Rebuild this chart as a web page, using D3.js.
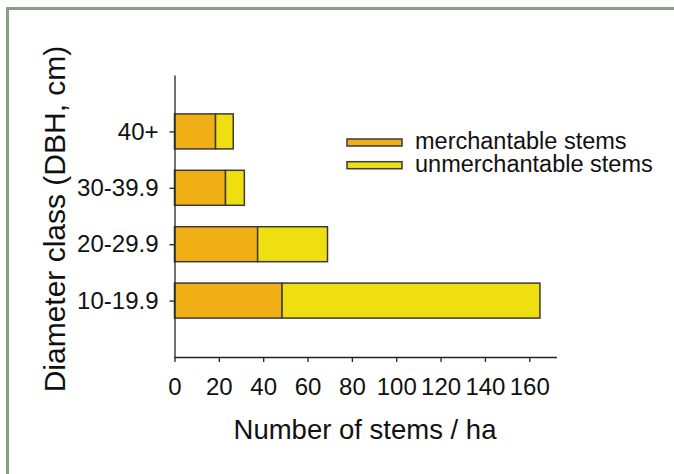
<!DOCTYPE html>
<html>
<head>
<meta charset="utf-8">
<script src="https://cdn.jsdelivr.net/npm/d3@7"></script>
<style>
  body { margin: 0; background: #fff; }
  svg { display: block; font-family: "Liberation Sans", Arial, sans-serif; }
</style>
</head>
<body>
<svg id="chart" width="674" height="474"></svg>
<script>
// diameter classes, bottom to top
const classes = ["10-19.9", "20-29.9", "30-39.9", "40+"];
const merchantable = [48.5, 37.5, 23, 18.5];
const unmerchantable = [116.3, 31.5, 8.5, 8];
const xTicks = [0, 20, 40, 60, 80, 100, 120, 140, 160];
const seriesNames = ["merchantable stems", "unmerchantable stems"];
const colors = ["#f0b015", "#f0df10"];

const svg = d3.select("#chart");

// frame around the figure
svg.append("rect")
    .attr("x", 7.5)
    .attr("y", 8.5)
    .attr("width", 700)
    .attr("height", 500)
    .style("fill", "none")
    .style("stroke", "#86a088")
    .style("stroke-width", 3);

const xScale = d3.scaleLinear()
    .domain([0, 172.5])
    .range([174.5, 557]);

const yScale = d3.scalePoint()
    .domain(classes)
    .range([357, 75])
    .padding(1);

const barH = 35;

const rows = classes.map((c, i) => ({
    cls: c,
    parts: [
        { s: 0, x0: 0, x1: merchantable[i] },
        { s: 1, x0: merchantable[i], x1: merchantable[i] + unmerchantable[i] }
    ]
}));

const g = svg.append("g");
rows.forEach(r => {
    g.selectAll(null)
        .data(r.parts)
        .enter()
        .append("rect")
        .attr("x", d => xScale(d.x0))
        .attr("y", yScale(r.cls) - barH / 2)
        .attr("width", d => xScale(d.x1) - xScale(d.x0))
        .attr("height", barH)
        .style("fill", d => colors[d.s])
        .style("stroke", "#3a3a3a")
        .style("stroke-width", 1.5);
});

// x axis
const xAxis = svg.append("g")
    .attr("transform", "translate(0,357)")
    .call(d3.axisBottom(xScale).tickValues(xTicks).tickSize(5).tickPadding(16).tickSizeOuter(0));
xAxis.select(".domain").attr("d", "M" + xScale.range()[0] + ",0.5H" + xScale.range()[1]);
xAxis.selectAll("line").style("stroke", "#222").style("stroke-width", 1.3);
xAxis.select(".domain").style("stroke", "#222").style("stroke-width", 1.3);
xAxis.selectAll("text")
    .style("font-size", "24px")
    .style("font-family", "'Liberation Sans', Arial, sans-serif")
    .style("fill", "#111");

// y axis
const yAxis = svg.append("g")
    .attr("transform", "translate(174.5,0)")
    .call(d3.axisLeft(yScale).tickSize(5).tickPadding(11).tickSizeOuter(0));
yAxis.selectAll("line").style("stroke", "#222").style("stroke-width", 1.3);
yAxis.select(".domain").style("stroke", "#222").style("stroke-width", 1.3);
yAxis.selectAll("text")
    .style("font-size", "24px")
    .style("font-family", "'Liberation Sans', Arial, sans-serif")
    .style("fill", "#111");

// axis titles
svg.append("text")
    .attr("x", 365)
    .attr("y", 439)
    .attr("text-anchor", "middle")
    .style("font-size", "27.5px")
    .style("fill", "#111")
    .text("Number of stems / ha");

svg.append("text")
    .attr("transform", "translate(65,219) rotate(-90)")
    .attr("text-anchor", "middle")
    .style("font-size", "30px")
    .style("fill", "#111")
    .text("Diameter class (DBH, cm)");

// legend
const legend = svg.append("g")
    .selectAll("g")
    .data(seriesNames)
    .enter()
    .append("g")
    .attr("transform", (d, i) => `translate(347,${139 + i * 22.7})`);

legend.append("rect")
    .attr("width", 55)
    .attr("height", 7)
    .style("fill", (d, i) => colors[i])
    .style("stroke", "#3a3a3a")
    .style("stroke-width", 1.5);

legend.append("text")
    .attr("x", 68)
    .attr("y", 10)
    .style("font-size", "23.5px")
    .style("fill", "#111")
    .text(d => d);
</script>
</body>
</html>
